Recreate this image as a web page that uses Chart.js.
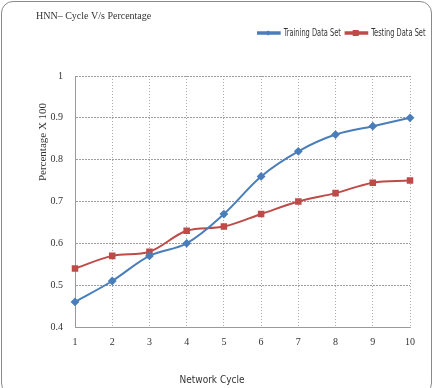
<!DOCTYPE html>
<html><head><meta charset="utf-8">
<script src="https://cdn.jsdelivr.net/npm/chart.js@4"></script>
<style>
html,body{margin:0;padding:0;background:#fff;}
#wrap{position:relative;width:442px;height:388px;overflow:hidden;}
#frame{position:absolute;left:1px;top:1px;width:429px;height:392px;border:1px solid #8a8a8a;border-radius:12px;}
canvas{position:absolute;left:0;top:0;}
</style></head>
<body><div id="wrap"><div id="frame"></div><canvas id="c" width="442" height="388"></canvas></div>
<script>
const cycles = ['1','2','3','4','5','6','7','8','9','10'];
const training = [0.46, 0.51, 0.57, 0.60, 0.67, 0.76, 0.82, 0.86, 0.88, 0.90];
const testing = [0.54, 0.57, 0.58, 0.63, 0.64, 0.67, 0.70, 0.72, 0.745, 0.75];
const blue = '#4a7ebb', red = '#be4b48';
const narrow = "'DejaVu Sans Condensed', 'Liberation Sans', sans-serif";
const LEG_SCALE = 0.74;

const legendPlugin = {
  id:'legendTweak',
  afterInit(chart){
    const lg = chart.legend; if(!lg) return;
    const origFit = lg.fit;
    lg.fit = function(){ origFit.call(this); this.height += 28; };
    const origDraw = lg.draw;
    lg.draw = function(){
      const ctx = this.ctx, R = this.right;
      ctx.save(); ctx.translate(R,0); ctx.scale(LEG_SCALE,1); ctx.translate(-R,0);
      origDraw.call(this);
      ctx.restore();
    };
  },
  afterDraw(chart){
    const lg = chart.legend; if(!lg) return;
    const ctx = chart.ctx, R = lg.right;
    const boxes = lg.legendHitBoxes || [];
    ctx.save();
    boxes.forEach((b,i)=>{
      const ds = chart.data.datasets[i];
      const cx = R + (b.left + 14 - R) * LEG_SCALE;
      const cy = b.top + b.height/2;
      ctx.fillStyle = ds.borderColor;
      if(ds.pointStyle==='rect'){ ctx.fillRect(cx-3,cy-3,6,6); }
      else { ctx.beginPath(); ctx.moveTo(cx,cy-2.5);ctx.lineTo(cx+3,cy);ctx.lineTo(cx,cy+2.5);ctx.lineTo(cx-3,cy);ctx.closePath();ctx.fill(); }
    });
    ctx.restore();
  }
};

const extrasPlugin = {
  id:'extras',
  afterDraw(chart){
    const ctx = chart.ctx;
    ctx.save();
    ctx.fillStyle = '#333';
    ctx.textAlign = 'center'; ctx.textBaseline = 'middle';
    ctx.font = "10px " + narrow;
    ctx.fillText('Network Cycle', 212, 380);
    ctx.translate(43, 142);
    ctx.rotate(-Math.PI/2);
    ctx.font = "11px 'Liberation Serif'";
    ctx.fillText('Percentage X 100', 0, 0);
    ctx.restore();
  },
  beforeDatasetsDraw(chart){
    const ctx = chart.ctx, a = chart.chartArea;
    ctx.save();
    ctx.strokeStyle = '#9a9a9a'; ctx.lineWidth = 1; ctx.setLineDash([]);
    ctx.beginPath();
    ctx.moveTo(Math.round(a.left)+0.5, a.top); ctx.lineTo(Math.round(a.left)+0.5, Math.round(a.bottom)+0.5);
    ctx.lineTo(a.right, Math.round(a.bottom)+0.5);
    ctx.stroke();
    ctx.restore();
  }
};

new Chart(document.getElementById('c'), {
  type:'line',
  data:{labels:cycles, datasets:[
    {label:'Training Data Set', data:training, borderColor:blue, backgroundColor:blue, borderWidth:2, pointStyle:'rectRot', pointRadius:3, tension:0.35},
    {label:'Testing Data Set', data:testing, borderColor:red, backgroundColor:red, borderWidth:2, pointStyle:'rect', pointRadius:3.2, tension:0.35}
  ]},
  options:{
    responsive:false, animation:false,
    layout:{padding:{left:36,right:12,top:0,bottom:0}},
    plugins:{
      title:{display:true, text:'HNN– Cycle V/s Percentage', align:'start', color:'#333',
        font:{family:'Liberation Serif', size:10, weight:'normal'}, padding:{top:10,bottom:0}},
      legend:{display:true, align:'end', labels:{color:'#333', font:{family:narrow, size:10},
        boxWidth:30, boxHeight:1.5, padding:6}},
      tooltip:{enabled:false}
    },
    scales:{
      x:{offset:false, grid:{color:'#aaaaaa', drawTicks:false}, border:{display:true, color:'#aaaaaa', dash:[1,2]},
        ticks:{color:'#333', font:{family:'Liberation Serif', size:10}, padding:9, maxRotation:0},
        title:{display:true, text:'Network Cycle', color:'rgba(0,0,0,0)', font:{family:narrow, size:10}, padding:{top:19,bottom:0}}},
      y:{min:0.4, max:1, grid:{color:'#9c9c9c', drawTicks:false}, border:{display:true,color:'#9c9c9c', dash:[2,1]},
        ticks:{stepSize:0.1, color:'#333', font:{family:'Liberation Serif', size:10}, padding:12,
          callback:v=>Math.round(v*10)/10+''},
        title:{display:false},
        afterFit(s){ s.width = 39; }},
      yr:{position:'right', display:true, grid:{display:false}, border:{display:false}, ticks:{display:false},
        afterFit(s){ s.width = 20; }}
    }
  },
  plugins:[legendPlugin, extrasPlugin]
});
</script></body></html>
